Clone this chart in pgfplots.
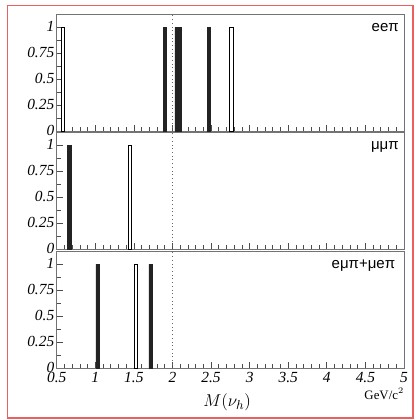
\documentclass[border=0pt]{standalone}
\usepackage{pgfplots}
\pgfplotsset{compat=1.18}
\usepackage{fontspec}
\setmainfont{Liberation Serif}
\setsansfont{Liberation Sans}
\definecolor{redframe}{RGB}{235,95,95}
\definecolor{barfill}{RGB}{35,35,35}

\pgfplotsset{
 panel/.style={
  scale only axis, width=243.1pt, height=81.55pt, anchor=north west,
  xmin=0.5, xmax=5, ymin=0, ymax=1.12,
  xtick={0.5,1,1.5,2,2.5,3,3.5,4,4.5,5}, minor x tick num=4,
  ytick={0,0.25,0.5,0.75,1}, minor y tick num=1,
  tick align=inside, xtick pos=bottom, ytick pos=left,
  axis line style={draw=black!55, line width=0.7pt},
  major tick length=4.5pt, minor tick length=2.8pt,
  tick style={black!70, line width=0.5pt},
  /pgf/number format/assume math mode=true,
  tick label style={font=\fontsize{10.8}{12}\selectfont\itshape},
  yticklabel style={inner sep=1.5pt, yshift=0.8pt},
  xticklabel style={inner sep=1pt, yshift=-1.4pt},
 },
 fbar/.style={ybar, bar width=0.046, bar shift=0pt, fill=barfill, draw=barfill, line width=0.4pt},
 obar/.style={ybar, bar width=0.046, bar shift=0pt, fill=white, draw=black, line width=0.6pt},
}
\tikzset{chlabel/.style={anchor=base east, inner sep=0pt, font=\sffamily\fontsize{10.5}{12}\selectfont}}

\begin{document}
\begin{tikzpicture}
\useasboundingbox (0pt,0pt) rectangle (292.6pt,294pt);
\draw[redframe, line width=1pt] (5.4pt,1.4pt) rectangle (289.1pt,290pt);

% panel 1: ee pi
\begin{axis}[panel, at={(39.7pt,283.5pt)}, xticklabels={}]
\draw[dotted, black!60, line width=0.6pt] (axis cs:2,0) -- (axis cs:2,1.12);
\addplot[fbar] coordinates {(1.903,1) (2.472,1)};
\addplot[fbar] coordinates {(2.055,1) (2.097,1)};
\addplot[obar] coordinates {(0.582,1) (2.765,1)};
\node[chlabel] at ([xshift=-3.5pt,yshift=-11.5pt]rel axis cs:1,1) {eeπ};
\end{axis}

% panel 2: mu mu pi
\begin{axis}[panel, at={(39.7pt,200.9pt)}, xticklabels={}]
\draw[dotted, black!60, line width=0.6pt] (axis cs:2,0) -- (axis cs:2,1.12);
\addplot[fbar] coordinates {(0.665,1)};
\addplot[obar] coordinates {(1.448,1)};
\node[chlabel] at ([xshift=-3.5pt,yshift=-11.5pt]rel axis cs:1,1) {μμπ};
\end{axis}

% panel 3: e mu pi + mu e pi
\begin{axis}[panel, at={(39.7pt,117.6pt)}]
\draw[dotted, black!60, line width=0.6pt] (axis cs:2,0) -- (axis cs:2,1.12);
\addplot[fbar] coordinates {(1.031,1) (1.718,1)};
\addplot[obar] coordinates {(1.525,1)};
\node[chlabel] at ([xshift=-6pt,yshift=-11.5pt]rel axis cs:1,1) {eμπ+μeπ};
\end{axis}

\node[font=\fontsize{12.5}{14}\selectfont] at (159pt,12.6pt) {$M(\nu_h)$};
\node[anchor=base east, inner sep=0pt, font=\fontsize{9}{10}\selectfont] at (283pt,14.7pt) {GeV/c$^2$};
\end{tikzpicture}
\end{document}
